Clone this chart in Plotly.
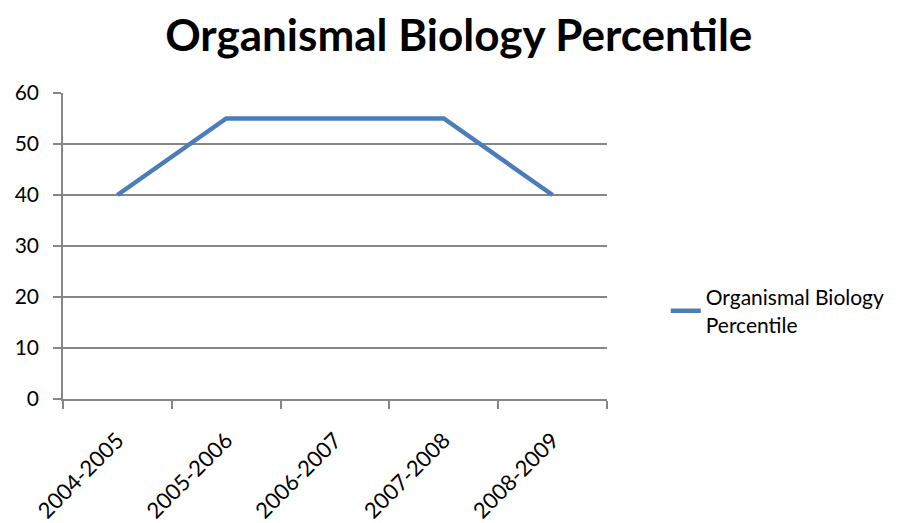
import plotly.graph_objects as go

years = ["2004-2005", "2005-2006", "2006-2007", "2007-2008", "2008-2009"]
percentile = [40, 55, 55, 55, 40]
series_name = "Organismal Biology<br>Percentile"
title_text = "Organismal Biology Percentile"

FONT = "Lato, Open Sans, sans-serif"

fig = go.Figure()
fig.add_trace(go.Scatter(
    x=years, y=percentile, mode="lines", name=series_name,
    line=dict(color="#4A7EBB", width=4.5),
))

fig.update_layout(
    width=918, height=523,
    margin=dict(l=55, r=319, t=85, b=132, autoexpand=False),
    paper_bgcolor="white", plot_bgcolor="white",
    font=dict(family=FONT, color="black"),
    title=dict(text="<b>" + title_text + "</b>", x=0.491, xanchor="center",
               xref="container", yref="container", y=0.948, yanchor="middle",
               font=dict(size=44, family=FONT, color="black")),
    showlegend=True,
    legend=dict(x=1.108, y=0.288, xanchor="left", yanchor="middle",
                font=dict(size=21, family=FONT, color="black"),
                bgcolor="rgba(0,0,0,0)"),
)
fig.update_xaxes(
    type="category", tickson="boundaries", ticks="outside", ticklen=8,
    tickcolor="#868686", tickwidth=1.5,
    showline=True, linecolor="#868686", linewidth=1.5,
    showgrid=False, tickangle=-45, ticklabelstandoff=18,
    tickfont=dict(size=22, family=FONT, color="black"),
    range=[-0.5, 4.5],
)
fig.update_yaxes(
    range=[0, 60], dtick=10, ticks="outside", ticklen=8,
    tickcolor="#868686", tickwidth=1.5,
    showline=True, linecolor="#868686", linewidth=1.5,
    showgrid=True, gridcolor="#868686", gridwidth=1.5,
    zeroline=False, ticklabelstandoff=10,
    tickfont=dict(size=21, family=FONT, color="black"),
)

fig.write_html("out.html")
